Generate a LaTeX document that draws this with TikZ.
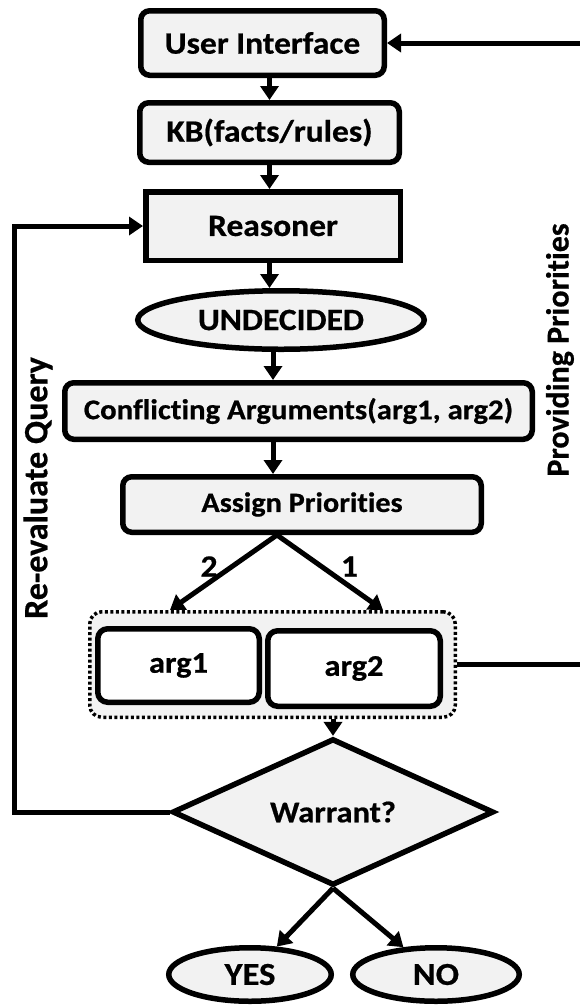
\documentclass[tikz,border=0pt]{standalone}
\usepackage{fontspec}
\setmainfont{Carlito}[RawFeature={-liga;-clig;-calt;-dlig;-rlig},
  BoldFeatures={FakeBold=0.6, RawFeature={-liga;-clig;-calt;-dlig;-rlig}}]
\usetikzlibrary{shapes.geometric,arrows.meta,calc}
\definecolor{boxfill}{HTML}{F2F2F2}
\newcommand{\txt}[2]{{\fontsize{#1}{#1}\selectfont\bfseries\scalebox{1.08}[1]{#2}}}
\newcommand{\tIx}{t\kern0pt i}
\begin{document}
\begin{tikzpicture}[x=1pt,y=-1pt,
  box/.style={draw=black, line width=5.5pt, fill=boxfill, rounded corners=9pt, inner sep=0pt},
  sqbox/.style={draw=black, line width=5.5pt, fill=boxfill, inner sep=0pt},
  oval/.style={ellipse, draw=black, line width=5.5pt, fill=boxfill, inner sep=0pt},
  argbox/.style={draw=black, line width=5.5pt, fill=white, rounded corners=10pt, inner sep=0pt},
  arr/.style={line width=5pt, -{Triangle[length=14pt,width=18pt]}},
  lbl/.style={inner sep=0pt}
]
\useasboundingbox (0,0) rectangle (579,1005);

\node[box, minimum width=243.5pt, minimum height=64.5pt] (ui) at (262.5,43) {\txt{31}{User Interface}};
\node[box, minimum width=259.5pt, minimum height=59.5pt] (kb) at (269.5,132.5) {\txt{31}{KB(facts/rules)}};
\node[sqbox, minimum width=254.5pt, minimum height=68.5pt] (rs) at (273,226) {\txt{31}{Reasoner}};
\node[oval, minimum width=286.5pt, minimum height=58.5pt] (und) at (281,320) {\txt{31}{UNDECIDED}};
\node[box, minimum width=467.5pt, minimum height=56.5pt] (conf) at (298.5,411) {\txt{28.5}{Conflic\tIx ng Arguments(arg1, arg2)}};
\node[box, minimum width=358.5pt, minimum height=55.5pt] (asg) at (302,504.5) {\txt{28}{Assign Priori\tIx es}};

\node[draw=black, line width=3.5pt, dash pattern=on 3pt off 2.5pt, fill=boxfill, rounded corners=12pt,
      minimum width=365.5pt, minimum height=105.5pt, inner sep=0pt] (grp) at (272.5,664.5) {};
\node[argbox, minimum width=161.5pt, minimum height=73.5pt] (a1) at (178.5,665.5) {\txt{30}{arg1}};
\node[argbox, minimum width=172.5pt, minimum height=75.5pt] (a2) at (354,668.5) {\txt{30}{arg2}};

\node[diamond, draw=black, line width=5.5pt, fill=boxfill, minimum width=321.5pt, minimum height=113.5pt, inner sep=0pt] (w) at (333,812) {\txt{30}{Warrant?}};

\node[oval, minimum width=162.5pt, minimum height=53.5pt] (yes) at (250,974.5) {\txt{32}{YES}};
\node[oval, minimum width=166.5pt, minimum height=53.5pt] (no) at (436,974.5) {\txt{32}{NO}};

\node[lbl, rotate=90] (rq) at (38,488) {\fontsize{34}{34}\selectfont\bfseries Re-evaluate Query};
\node[lbl, rotate=90] (pp) at (560,350) {\fontsize{32}{32}\selectfont\bfseries Providing Priori\tIx es};

\coordinate (spine) at (273,0);
\coordinate (split) at (277,0);
\coordinate (t2) at (170,0);
\coordinate (t1) at (383,0);
\coordinate (fb) at (14,812);
\coordinate (pr) at (592,0);

\draw[arr] (ui.south -| kb.north) -- (kb.north);
\draw[arr] (kb.south) -- (kb.south |- rs.north);
\draw[arr] (rs.south -| kb.south) -- (kb.south |- und.north);
\draw[arr] (und.south -| spine) -- (conf.north -| spine);
\draw[arr] (conf.south -| spine) -- (asg.north -| spine);
\draw[arr] (asg.south -| split) -- (grp.north -| t2) node[lbl, pos=0.42, left=12pt] (n2) {\txt{31}{2}};
\draw[arr] (asg.south -| split) -- (grp.north -| t1) node[lbl, pos=0.42, right=17pt] (n1) {\txt{31}{1}};
\draw[arr] (grp.south -| w.north) -- (w.north);
\draw[arr] (w.south) -- (yes);
\draw[arr] (w.south) -- (no);
\draw[arr] (w.west) -- (fb) |- (rs.west);
\draw[arr] (grp.east) -- (grp.east -| pr) -- (ui.east -| pr) -- (ui.east);
\end{tikzpicture}
\end{document}
